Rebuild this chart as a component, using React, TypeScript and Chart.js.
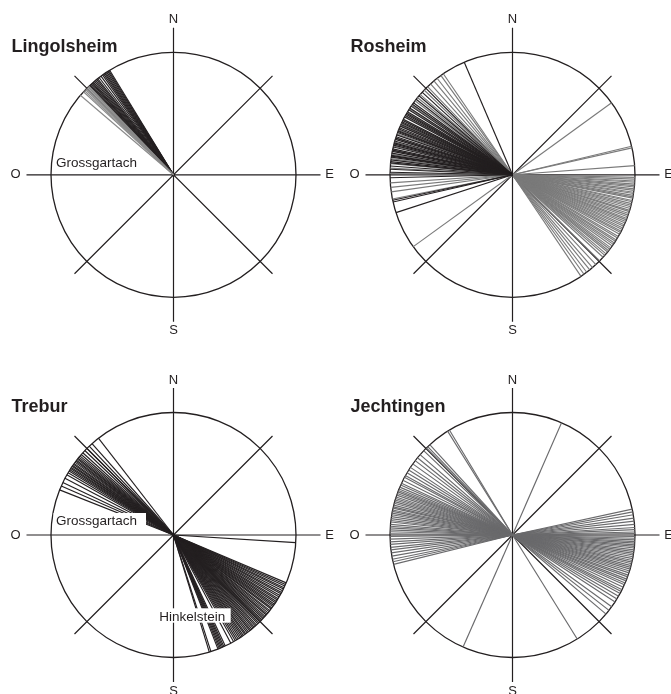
import { useEffect, useRef } from 'react';
import { Chart, registerables } from 'chart.js';

Chart.register(...registerables);

// Orientation azimuths in degrees (0 = N, 90 = E, clockwise)
const lingolsheimGray = [310.5, 312.7, 313.4, 314.1, 314.6, 315.2, 315.8, 316.3];
const lingolsheimBlack = [316.8, 317.2, 317.7, 318.3, 318.7, 319.2, 319.8, 320.5, 321.1, 321.7, 322.6, 323.7, 324.6, 325.3, 325.9, 326.4, 327.0, 327.6, 328.1, 328.6];

const rosheimBlack = [252.0, 257.2, 258.0, 268.6, 271.2, 272.6, 274.1, 275.6, 276.2, 277.0, 278.3, 278.8, 279.1, 280.2, 281.0, 281.6, 282.2, 283.1, 284.0, 284.6, 285.1, 286.0, 286.8, 287.4, 288.1, 289.0, 290.2, 290.7, 291.1, 292.0, 292.6, 293.4, 294.2, 295.1, 295.7, 296.3, 297.0, 298.1, 299.0, 299.6, 300.2, 301.0, 302.1, 303.0, 304.1, 305.2, 306.0, 308.1, 310.2, 312.4, 336.8];
const rosheimGrayWest = [234.1, 258.6, 262.0, 264.1, 266.2, 270.6, 273.1, 275.2, 277.6, 279.6, 281.5, 283.6, 285.5, 287.5, 289.6, 291.5, 293.8, 294.7, 296.6, 298.5, 300.6, 302.6, 304.6, 307.2, 309.1, 311.0, 313.8, 316.1, 318.0, 320.1, 322.0, 324.2, 325.6];
const rosheimGrayEast = [54.0, 76.5, 77.3, 85.7, 91.2, 92.0, 92.9, 93.5, 94.4, 95.1, 95.7, 96.6, 97.3, 98.2, 98.8, 99.7, 100.4, 101.0, 102.1, 102.7, 103.6, 104.4, 105.1, 106.0, 106.9, 107.5, 108.4, 109.2, 110.0, 110.9, 111.6, 112.4, 113.2, 114.1, 114.8, 115.7, 116.5, 117.4, 118.1, 119.0, 120.2, 121.0, 122.1, 122.9, 123.8, 124.6, 125.5, 126.6, 127.4, 128.3, 129.1, 130.2, 131.1, 132.3, 134.6, 137.1, 139.2, 140.9, 142.7, 144.3, 146.0];

const treburBlackWest = [291.6, 293.6, 295.4, 297.6, 299.4, 300.6, 301.5, 302.2, 302.9, 303.4, 304.1, 304.6, 305.3, 305.8, 306.5, 307.1, 307.6, 308.3, 308.8, 309.5, 310.2, 311.1, 312.2, 313.6, 315.0, 316.5, 318.3, 322.2];
const treburBlackEast = [93.6, 113.0, 113.8, 114.6, 115.5, 116.2, 117.1, 118.0, 118.7, 119.6, 120.4, 121.3, 122.0, 122.9, 123.6, 124.4, 125.1, 125.8, 126.6, 127.2, 128.1, 128.7, 129.5, 130.2, 130.8, 131.6, 132.3, 133.0, 133.8, 134.4, 135.2, 135.9, 136.5, 137.3, 138.0, 138.8, 139.4, 140.2, 140.9, 141.5, 142.3, 143.0, 143.8, 144.4, 145.2, 145.9, 146.6, 147.3, 148.1, 148.9, 149.7, 150.6, 152.1, 155.0, 155.7, 156.3, 156.9, 157.5, 158.1, 158.7, 162.2, 163.0];

const jechtingenGrayWest = [203.8, 256.1, 257.4, 258.6, 260.1, 261.6, 263.0, 264.2, 265.6, 266.8, 268.1, 269.3, 270.6, 271.5, 272.4, 273.3, 274.1, 275.0, 276.1, 276.8, 277.7, 278.6, 279.5, 280.3, 281.1, 281.8, 282.7, 283.3, 284.1, 285.0, 285.8, 286.6, 287.3, 288.1, 289.0, 289.8, 290.6, 291.3, 292.1, 293.0, 294.1, 295.0, 296.5, 298.1, 299.0, 300.5, 302.1, 303.5, 305.5, 307.4, 309.1, 311.0, 313.5, 315.3, 316.2, 317.5, 328.0, 329.0];
const jechtingenGrayEast = [23.6, 77.8, 79.1, 80.5, 82.1, 83.5, 85.0, 86.5, 87.5, 88.6, 89.3, 90.7, 91.5, 92.3, 93.1, 93.8, 94.6, 95.3, 96.1, 97.0, 97.8, 98.6, 99.4, 100.2, 101.1, 102.0, 102.8, 103.6, 104.5, 105.3, 106.2, 107.1, 108.0, 109.1, 110.0, 111.1, 112.0, 113.1, 114.0, 115.2, 116.5, 117.5, 118.5, 120.0, 121.5, 123.1, 125.9, 128.0, 130.2, 148.1];

const BLACK = '#231f20';
const GRAY_LIGHT = '#8a8a8a';
const GRAY_MID = '#7a7a7a';
const GRAY_DARK = '#6a6a6c';

const R = 122.5;
const AXIS_LEN = 147;
const DIAG_LEN = 140;
const LABEL_DIST = 156;
const FONT = '"Liberation Sans", Arial, Helvetica, sans-serif';

type Group = { angles: number[]; color: string };
type Note = { text: string; x: number; y: number; box?: [number, number, number, number] };
type Panel = {
  title: string;
  left: number;
  top: number;
  width: number;
  height: number;
  cx: number;
  cy: number;
  groups: Group[];
  notes: Note[];
};

const panels: Panel[] = [
  {
    title: 'Lingolsheim', left: 0, top: 0, width: 342, height: 355, cx: 173.5, cy: 174.8,
    groups: [
      { angles: lingolsheimGray, color: GRAY_LIGHT },
      { angles: lingolsheimBlack, color: BLACK },
    ],
    notes: [{ text: 'Grossgartach', x: -117.5, y: -7.8 }],
  },
  {
    title: 'Rosheim', left: 342, top: 0, width: 329, height: 355, cx: 170.5, cy: 174.8,
    groups: [
      { angles: rosheimBlack, color: BLACK },
      { angles: rosheimGrayWest, color: GRAY_MID },
      { angles: rosheimGrayEast, color: GRAY_MID },
    ],
    notes: [],
  },
  {
    title: 'Trebur', left: 0, top: 355, width: 342, height: 339, cx: 173.5, cy: 180,
    groups: [
      { angles: treburBlackWest, color: BLACK },
      { angles: treburBlackEast, color: BLACK },
    ],
    notes: [
      { text: 'Grossgartach', x: -117.5, y: -10, box: [-120, -22, 92.5, 13.5] },
      { text: 'Hinkelstein', x: -14.2, y: 85.5, box: [-16.2, 73.3, 73.4, 14.4] },
    ],
  },
  {
    title: 'Jechtingen', left: 342, top: 355, width: 329, height: 339, cx: 170.5, cy: 180,
    groups: [
      { angles: jechtingenGrayWest, color: GRAY_DARK },
      { angles: jechtingenGrayEast, color: GRAY_DARK },
    ],
    notes: [],
  },
];

function RoseChart({ panel }: { panel: Panel }) {
  const ref = useRef<HTMLCanvasElement | null>(null);

  useEffect(() => {
    const canvas = ref.current;
    if (!canvas) return;
    const datasets: any[] = [];
    panel.groups.forEach((g) => {
      g.angles.forEach((a) => {
        const rad = (a * Math.PI) / 180;
        datasets.push({
          data: [
            { x: 0, y: 0 },
            { x: R * Math.sin(rad), y: R * Math.cos(rad) },
          ],
          borderColor: g.color,
          backgroundColor: g.color,
          borderWidth: 1.15,
          pointRadius: 0,
          showLine: true,
          fill: false,
          tension: 0,
        });
      });
    });

    const deco = {
      id: 'roseDeco',
      beforeDatasetsDraw(chart: any) {
        const ctx = chart.ctx;
        const xs = chart.scales.x;
        const ys = chart.scales.y;
        const cx = xs.getPixelForValue(0);
        const cy = ys.getPixelForValue(0);
        const r = xs.getPixelForValue(R) - cx;
        ctx.save();
        ctx.strokeStyle = BLACK;
        ctx.lineWidth = 1.3;
        ctx.beginPath();
        ctx.arc(cx, cy, r, 0, Math.PI * 2);
        ctx.stroke();
        ctx.lineWidth = 1.2;
        ctx.beginPath();
        ctx.moveTo(cx, cy - AXIS_LEN);
        ctx.lineTo(cx, cy + AXIS_LEN);
        ctx.moveTo(cx - AXIS_LEN, cy);
        ctx.lineTo(cx + AXIS_LEN, cy);
        const d = DIAG_LEN / Math.SQRT2;
        ctx.moveTo(cx - d, cy - d);
        ctx.lineTo(cx + d, cy + d);
        ctx.moveTo(cx - d, cy + d);
        ctx.lineTo(cx + d, cy - d);
        ctx.stroke();
        ctx.restore();
      },
      afterDatasetsDraw(chart: any) {
        const ctx = chart.ctx;
        const xs = chart.scales.x;
        const ys = chart.scales.y;
        const cx = xs.getPixelForValue(0);
        const cy = ys.getPixelForValue(0);
        ctx.save();
        ctx.fillStyle = BLACK;
        ctx.font = `13px ${FONT}`;
        ctx.textAlign = 'center';
        ctx.textBaseline = 'middle';
        ctx.fillText('N', cx, cy - LABEL_DIST + 1);
        ctx.fillText('S', cx, cy + LABEL_DIST);
        ctx.fillText('O', cx - LABEL_DIST - 2, cy);
        ctx.fillText('E', cx + LABEL_DIST, cy);

        panel.notes.forEach((n) => {
          if (n.box) {
            ctx.fillStyle = '#ffffff';
            ctx.fillRect(cx + n.box[0], cy + n.box[1], n.box[2], n.box[3]);
          }
          ctx.fillStyle = BLACK;
          ctx.font = `13.5px ${FONT}`;
          ctx.textAlign = 'left';
          ctx.textBaseline = 'alphabetic';
          ctx.fillText(n.text, cx + n.x, cy + n.y);
        });

        ctx.fillStyle = BLACK;
        ctx.font = `bold 18px ${FONT}`;
        ctx.textAlign = 'left';
        ctx.textBaseline = 'alphabetic';
        ctx.fillText(panel.title, cx - 162, cy - 123);
        ctx.restore();
      },
    };

    const chart = new Chart(canvas, {
      type: 'scatter',
      data: { datasets },
      options: {
        animation: false,
        responsive: false,
        maintainAspectRatio: false,
        events: [],
        layout: { padding: 0 },
        plugins: { legend: { display: false }, tooltip: { enabled: false }, title: { display: false } },
        scales: {
          x: { type: 'linear', display: false, min: -panel.cx, max: panel.width - panel.cx },
          y: { type: 'linear', display: false, min: -(panel.height - panel.cy), max: panel.cy },
        },
      },
      plugins: [deco],
    });
    return () => chart.destroy();
  }, [panel]);

  return (
    <canvas
      ref={ref}
      width={panel.width}
      height={panel.height}
      style={{ position: 'absolute', left: panel.left, top: panel.top, width: panel.width, height: panel.height }}
    />
  );
}

export default function App() {
  return (
    <div style={{ position: 'absolute', left: 0, top: 0, width: 671, height: 694, background: '#ffffff', overflow: 'hidden' }}>
      {panels.map((p) => (
        <RoseChart key={p.title} panel={p} />
      ))}
    </div>
  );
}
